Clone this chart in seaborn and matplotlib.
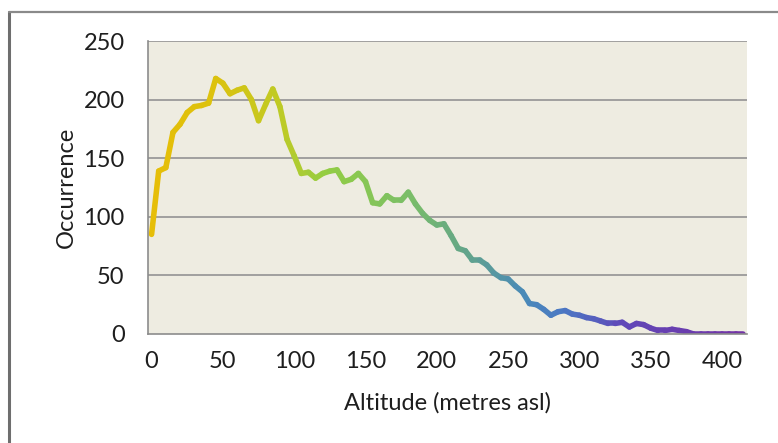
import matplotlib
matplotlib.use("Agg")
import matplotlib.pyplot as plt
import seaborn as sns
import pandas as pd
import numpy as np
from matplotlib.colors import LinearSegmentedColormap
from matplotlib.lines import Line2D

# ---- data ----
altitude = [0, 5, 10, 15, 20, 25, 30, 35, 40, 45,
            50, 55, 60, 65, 70, 75, 80, 85, 90, 95,
            100, 105, 110, 115, 120, 125, 130, 135, 140, 145,
            150, 155, 160, 165, 170, 175, 180, 185, 190, 195,
            200, 205, 210, 215, 220, 225, 230, 235, 240, 245,
            250, 255, 260, 265, 270, 275, 280, 285, 290, 295,
            300, 305, 310, 315, 320, 325, 330, 335, 340, 345,
            350, 355, 360, 365, 370, 375, 380, 385, 390, 395,
            400, 405, 410, 415]
occurrence = [85, 139, 142, 172, 179, 189, 194, 195, 197, 218,
              214, 205, 208, 210, 200, 182, 196, 209, 194, 166,
              152, 137, 138, 133, 137, 139, 140, 130, 132, 137,
              130, 112, 111, 118, 114, 114, 121, 111, 103, 97,
              93, 94, 84, 73, 71, 63, 63, 59, 52, 48,
              47, 41, 36, 26, 25, 21, 16, 19, 20, 17,
              16, 14, 13, 11, 9, 9, 10, 6, 9, 8,
              5, 3, 3, 4, 3, 2, 0, 0, 0, 0,
              0, 0, 0, 0]
x_tick_labels = ["0", "50", "100", "150", "200", "250", "300", "350", "400"]
y_tick_labels = ["0", "50", "100", "150", "200", "250"]

# ---- gradient styling ----
grad = LinearSegmentedColormap.from_list("alt", [
    (0.00, "#E6BE08"), (0.11, "#DCC20E"), (0.22, "#BECB26"),
    (0.30, "#92CD44"), (0.43, "#7CBF66"), (0.53, "#64A688"),
    (0.63, "#4A8AB8"), (0.70, "#4B78C4"), (0.80, "#6048B8"),
    (1.00, "#7333A6")])

rows = []
for i in range(len(altitude) - 1):
    for j in (i, i + 1):
        rows.append({"alt": altitude[j], "occ": occurrence[j], "seg": i})
df = pd.DataFrame(rows)
nseg = len(altitude) - 1
palette = [grad((altitude[i] + altitude[i + 1]) / 2 / altitude[-1]) for i in range(nseg)]

sns.set_style("white")
plt.rcParams["font.family"] = ["Lato", "DejaVu Sans"]

FS = 17
TXT = "#1e1e1e"

fig = plt.figure(figsize=(7.78, 4.43), dpi=100)
ax = fig.add_axes([148 / 778, 1 - 334 / 443, (747 - 148) / 778, (334 - 41) / 443])
ax.set_facecolor("#EEECE1")

sns.lineplot(data=df, x="alt", y="occ", hue="seg", palette=palette,
             legend=False, linewidth=4.0, solid_capstyle="round",
             solid_joinstyle="round", ax=ax, sort=False, estimator=None)

ax.set_xlim(-2.5, 417.5)
ax.set_ylim(0, 250)

yt = [float(v) for v in y_tick_labels]
ax.set_yticks(yt)
ax.set_yticklabels(y_tick_labels)
for v in yt[1:]:
    ax.axhline(v, color="#9A9A9A", lw=1.3, zorder=0.5)

xt = [float(v) for v in x_tick_labels]
ax.set_xticks(xt)
ax.set_xticklabels(x_tick_labels)
ax.set_xticks(np.arange(-2.5, 418, 10), minor=True)
ax.tick_params(axis="x", which="major", length=0, pad=12, labelsize=FS, labelcolor=TXT)
ax.tick_params(axis="x", which="minor", length=5.2, width=1, color="#8C8C8C", direction="out")
ax.tick_params(axis="y", which="major", length=5.8, width=1, color="#8C8C8C", direction="out",
               labelsize=FS, pad=11, labelcolor=TXT)

for s in ["top", "right"]:
    ax.spines[s].set_visible(False)
for s in ["left", "bottom"]:
    ax.spines[s].set_color("#8C8C8C")
    ax.spines[s].set_linewidth(1.2)

ax.set_xlabel("Altitude (metres asl)", fontsize=FS, labelpad=15, color=TXT)
ax.set_ylabel("Occurrence", fontsize=FS, labelpad=5, color=TXT)

# outer chart frame (partially visible)
fig.add_artist(Line2D([8.5 / 778, 8.5 / 778], [0, 1 - 12 / 443], transform=fig.transFigure,
                      color="#6E6E6E", lw=2.2))
fig.add_artist(Line2D([8.5 / 778, 1], [1 - 12 / 443, 1 - 12 / 443], transform=fig.transFigure,
                      color="#8A8A8A", lw=1.6))

fig.savefig("out.png", dpi=100)
